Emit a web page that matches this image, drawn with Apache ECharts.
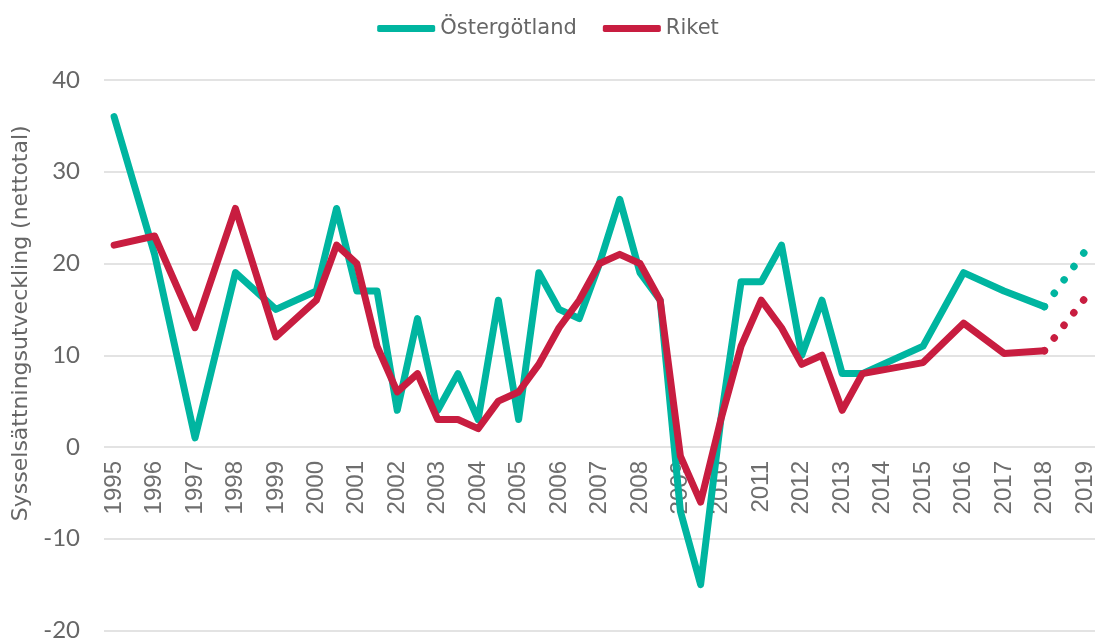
<!DOCTYPE html>
<html><head><meta charset="utf-8">
<script src="https://cdn.jsdelivr.net/npm/echarts@6/dist/echarts.min.js"></script>
<style>html,body{margin:0;padding:0;background:#fff}#c{width:1096px;height:639px}</style>
</head><body><div id="c"></div>
<script>
// Half-year periods; only full years get a tick label
const periods = ['1995','1995H2','1996','1996H2','1997','1997H2','1998','1998H2','1999','1999H2',
  '2000','2000H2','2001','2001H2','2002','2002H2','2003','2003H2','2004','2004H2',
  '2005','2005H2','2006','2006H2','2007','2007H2','2008','2008H2','2009','2009H2',
  '2010','2010H2','2011','2011H2','2012','2012H2','2013','2013H2','2014','2014H2',
  '2015','2015H2','2016','2016H2','2017','2017H2','2018','2018H2','2019'];
const seriesNames = ['Östergötland', 'Riket'];
const ostergotland = [36,null,21,null,1,null,19,null,15,null,
  17,26,17,17,4,14,4,8,3,16,
  3,19,15,14,20,27,19,16,-7,-15,
  3,18,18,22,10,16,8,8,null,null,
  11,null,19,null,17,null,15.3,null,null];
const riket = [22,null,23,null,13,null,26,null,12,null,
  16,22,20,11,6,8,3,3,2,5,
  6,9,13,16,20,21,20,16,-1,-6,
  3,11,16,13,9,10,4,8,null,null,
  9.2,null,13.5,null,10.2,null,10.5,null,null];
// forecast segment 2018 -> 2019
const ostergotlandForecast = [15.3, 21.3];
const riketForecast = [10.5, 16.2];
const yTicks = {min: -20, max: 40, interval: 10};

const GREEN = '#00b5a0', RED = '#c81d40';
function forecastData(vals){
  const a = periods.map(()=>null);
  a[periods.indexOf('2018')] = vals[0];
  a[periods.indexOf('2019')] = vals[1];
  return a;
}
const GRID_TOP = 80, GRID_BOTTOM = 8.5, H = 639;
const plotH = H - GRID_TOP - GRID_BOTTOM;
const zeroOffset = -plotH * (0 - yTicks.min) / (yTicks.max - yTicks.min);
const chart = echarts.init(document.getElementById('c'), null, {renderer:'canvas'});
chart.setOption({
  animation: false,
  legend: {
    data: seriesNames, top: 13, left: 'center',
    icon: 'roundRect', itemWidth: 58, itemHeight: 7, itemGap: 26,
    textStyle: {color: '#666', fontSize: 21, fontFamily: 'DejaVu Sans'}
  },
  grid: {left: 104, right: 1, top: GRID_TOP, bottom: GRID_BOTTOM, containLabel: false, outerBoundsMode: 'none'},
  xAxis: {
    type: 'category', data: periods, boundaryGap: true, offset: zeroOffset,
    axisLine: {show: false, onZero: false},
    axisTick: {show: false},
    axisLabel: {interval: 1, rotate: 90, margin: 14, color: '#6e6e6e', fontSize: 24, fontFamily: 'Liberation Sans'},
    splitLine: {show: false}
  },
  yAxis: {
    type: 'value', min: yTicks.min, max: yTicks.max, interval: yTicks.interval,
    name: 'Sysselsättningsutveckling (nettotal)', nameLocation: 'middle', nameGap: 72,
    nameTextStyle: {color: '#666', fontSize: 22, fontFamily: 'DejaVu Sans', padding: [0,0,0,64]},
    axisLine: {show: false}, axisTick: {show: false},
    axisLabel: {color: '#666', fontSize: 24, fontFamily: 'Lato', margin: 24},
    splitLine: {lineStyle: {color: '#e3e3e3', width: 2}}
  },
  series: [
    {name: seriesNames[0], type: 'line', data: ostergotland, connectNulls: true, showSymbol: false, symbol: 'none',
      lineStyle: {color: GREEN, width: 7, cap: 'round', join: 'round'}, itemStyle: {color: GREEN}, z: 2},
    {name: seriesNames[1], type: 'line', data: riket, connectNulls: true, showSymbol: false, symbol: 'none',
      lineStyle: {color: RED, width: 7, cap: 'round', join: 'round'}, itemStyle: {color: RED}, z: 3},
    {name: 'Östergötland prognos', type: 'line', data: forecastData(ostergotlandForecast), connectNulls: true, symbol: 'none',
      lineStyle: {color: GREEN, width: 7.5, type: [0.01, 16.6], cap: 'round'}, z: 2},
    {name: 'Riket prognos', type: 'line', data: forecastData(riketForecast), connectNulls: true, symbol: 'none',
      lineStyle: {color: RED, width: 7.5, type: [0.01, 16], cap: 'round'}, z: 3}
  ]
});
</script></body></html>
